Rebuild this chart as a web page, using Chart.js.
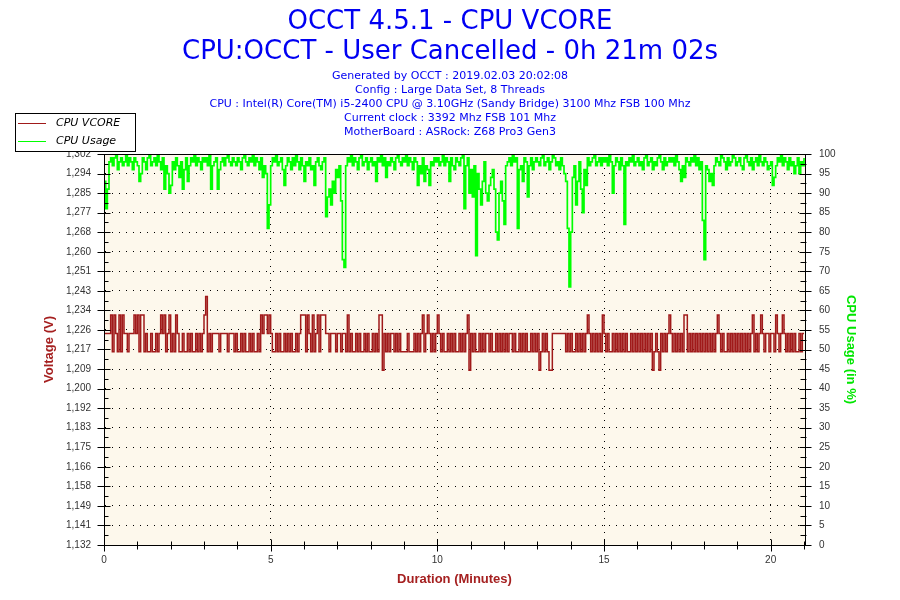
<!DOCTYPE html>
<html>
<head>
<meta charset="utf-8">
<title>OCCT 4.5.1 - CPU VCORE</title>
<script src="https://cdn.jsdelivr.net/npm/chart.js@4.4.1/dist/chart.umd.min.js"></script>
<style>
  html, body { margin: 0; padding: 0; background: #fff; }
  #occtChart { display: block; }
</style>
</head>
<body>
<canvas id="occtChart" width="900" height="600"></canvas>
<script>
/**=================
 * Data
 =================*/
const sampleMinutes = 0.05;   // one sample every 3 seconds
const durationMax = 21.03;    // 0h 21m 02s

// CPU VCORE in volts, one row per minute
const vcore = [
    1.224, 1.224, 1.224, 1.224, 1.232, 1.216, 1.232, 1.224, 1.216, 1.232, 1.216, 1.232, 1.224, 1.224, 1.216, 1.224, 1.224, 1.224, 1.232, 1.224,
    1.232, 1.216, 1.232, 1.232, 1.216, 1.224, 1.216, 1.216, 1.224, 1.216, 1.216, 1.224, 1.216, 1.224, 1.232, 1.224, 1.232, 1.216, 1.224, 1.232,
    1.216, 1.224, 1.216, 1.232, 1.224, 1.216, 1.216, 1.224, 1.216, 1.216, 1.224, 1.216, 1.224, 1.216, 1.216, 1.224, 1.216, 1.224, 1.216, 1.224,
    1.232, 1.240, 1.216, 1.224, 1.216, 1.224, 1.224, 1.224, 1.224, 1.216, 1.224, 1.224, 1.224, 1.224, 1.216, 1.224, 1.224, 1.224, 1.216, 1.224,
    1.216, 1.216, 1.224, 1.216, 1.224, 1.216, 1.216, 1.224, 1.216, 1.224, 1.216, 1.216, 1.224, 1.216, 1.232, 1.224, 1.232, 1.232, 1.224, 1.232,
    1.224, 1.216, 1.216, 1.224, 1.216, 1.224, 1.216, 1.216, 1.224, 1.216, 1.224, 1.216, 1.224, 1.216, 1.216, 1.224, 1.216, 1.224, 1.232, 1.232,
    1.232, 1.216, 1.232, 1.224, 1.216, 1.232, 1.216, 1.224, 1.232, 1.216, 1.232, 1.232, 1.232, 1.224, 1.224, 1.216, 1.224, 1.224, 1.224, 1.216,
    1.224, 1.224, 1.216, 1.224, 1.224, 1.216, 1.232, 1.216, 1.224, 1.216, 1.216, 1.224, 1.216, 1.224, 1.216, 1.216, 1.224, 1.216, 1.224, 1.216,
    1.216, 1.224, 1.216, 1.224, 1.216, 1.232, 1.232, 1.208, 1.224, 1.216, 1.224, 1.216, 1.224, 1.224, 1.216, 1.224, 1.216, 1.224, 1.216, 1.216,
    1.216, 1.216, 1.224, 1.216, 1.216, 1.216, 1.224, 1.216, 1.224, 1.216, 1.224, 1.232, 1.216, 1.224, 1.232, 1.224, 1.216, 1.224, 1.216, 1.224,
    1.232, 1.224, 1.216, 1.224, 1.216, 1.216, 1.224, 1.216, 1.224, 1.216, 1.224, 1.216, 1.216, 1.224, 1.216, 1.224, 1.216, 1.224, 1.232, 1.208,
    1.224, 1.216, 1.224, 1.216, 1.216, 1.224, 1.216, 1.224, 1.216, 1.224, 1.224, 1.216, 1.224, 1.216, 1.216, 1.224, 1.216, 1.224, 1.216, 1.224,
    1.216, 1.224, 1.216, 1.224, 1.224, 1.216, 1.224, 1.216, 1.216, 1.224, 1.216, 1.224, 1.216, 1.224, 1.216, 1.216, 1.224, 1.216, 1.224, 1.216,
    1.224, 1.208, 1.216, 1.224, 1.216, 1.224, 1.216, 1.208, 1.208, 1.224, 1.224, 1.224, 1.224, 1.224, 1.224, 1.224, 1.224, 1.216, 1.224, 1.216,
    1.224, 1.216, 1.216, 1.224, 1.216, 1.224, 1.216, 1.224, 1.216, 1.224, 1.232, 1.224, 1.216, 1.224, 1.216, 1.224, 1.216, 1.224, 1.216, 1.232,
    1.224, 1.216, 1.224, 1.216, 1.216, 1.224, 1.216, 1.224, 1.216, 1.224, 1.216, 1.224, 1.216, 1.224, 1.216, 1.216, 1.224, 1.216, 1.224, 1.216,
    1.224, 1.216, 1.224, 1.216, 1.224, 1.216, 1.224, 1.216, 1.224, 1.208, 1.216, 1.224, 1.216, 1.208, 1.224, 1.216, 1.224, 1.216, 1.224, 1.232,
    1.224, 1.216, 1.224, 1.216, 1.224, 1.216, 1.224, 1.216, 1.232, 1.232, 1.216, 1.224, 1.216, 1.224, 1.216, 1.224, 1.216, 1.224, 1.216, 1.224,
    1.216, 1.224, 1.216, 1.224, 1.216, 1.224, 1.216, 1.224, 1.232, 1.224, 1.216, 1.224, 1.216, 1.216, 1.224, 1.216, 1.224, 1.216, 1.224, 1.216,
    1.224, 1.216, 1.224, 1.216, 1.224, 1.216, 1.224, 1.216, 1.224, 1.232, 1.216, 1.224, 1.216, 1.224, 1.232, 1.224, 1.216, 1.224, 1.224, 1.216,
    1.224, 1.224, 1.216, 1.232, 1.224, 1.216, 1.224, 1.232, 1.224, 1.216, 1.224, 1.216, 1.224, 1.216, 1.224, 1.216, 1.216, 1.224, 1.216, 1.224,
    1.224
];

// CPU usage in %, one row per minute
const cpuUsage = [
    93, 86, 91, 98, 99, 97, 99, 100, 96, 98, 99, 97, 98, 100, 97, 99, 98, 96, 99, 98,
    97, 93, 95, 99, 98, 96, 99, 100, 97, 98, 99, 97, 100, 98, 96, 99, 91, 97, 95, 90,
    92, 98, 96, 99, 97, 94, 98, 91, 96, 99, 93, 97, 99, 98, 100, 97, 99, 98, 96, 99,
    98, 99, 97, 100, 91, 97, 98, 99, 91, 96, 98, 99, 97, 99, 100, 98, 97, 99, 98, 97,
    99, 98, 96, 99, 100, 98, 97, 99, 98, 100, 97, 99, 98, 96, 99, 94, 97, 95, 81, 87,
    97, 99, 98, 100, 97, 98, 99, 96, 92, 97, 99, 98, 96, 99, 97, 100, 98, 96, 99, 97,
    93, 98, 97, 99, 96, 97, 92, 98, 99, 97, 96, 98, 99, 84, 89, 91, 87, 93, 90, 96,
    94, 97, 88, 73, 71, 97, 99, 98, 100, 97, 99, 98, 96, 99, 100, 97, 98, 99, 96, 98,
    99, 97, 98, 93, 99, 98, 100, 97, 99, 94, 98, 97, 99, 98, 96, 99, 100, 98, 97, 99,
    98, 100, 97, 99, 98, 96, 99, 98, 92, 97, 95, 99, 93, 97, 96, 92, 98, 97, 99, 98,
    99, 97, 98, 100, 97, 99, 98, 93, 99, 97, 96, 99, 98, 97, 99, 100, 86, 97, 99, 90,
    96, 89, 97, 74, 95, 91, 87, 93, 98, 90, 88, 92, 94, 96, 91, 80, 78, 90, 93, 88,
    82, 97, 98, 99, 97, 100, 98, 99, 81, 96, 97, 93, 99, 98, 89, 97, 99, 96, 98, 99,
    98, 97, 99, 100, 97, 98, 99, 96, 98, 100, 99, 97, 98, 96, 99, 97, 95, 93, 81, 66,
    80, 94, 97, 87, 93, 98, 91, 85, 96, 92, 99, 97, 98, 99, 100, 97, 98, 99, 97, 99,
    98, 99, 97, 100, 98, 90, 97, 99, 98, 96, 99, 97, 82, 98, 97, 99, 98, 100, 97, 98,
    99, 97, 98, 96, 99, 100, 97, 98, 99, 96, 98, 97, 99, 100, 98, 96, 99, 97, 98, 99,
    98, 99, 97, 100, 98, 96, 93, 97, 94, 99, 98, 97, 99, 98, 100, 97, 99, 96, 98, 83,
    73, 97, 96, 93, 95, 92, 97, 99, 98, 97, 100, 99, 98, 96, 99, 97, 98, 100, 99, 97,
    98, 99, 97, 96, 99, 100, 98, 97, 99, 96, 98, 99, 97, 100, 98, 97, 99, 98, 96, 97,
    98, 92, 94, 97, 99, 98, 100, 97, 99, 98, 96, 99, 97, 98, 95, 97, 99, 95, 98, 97,
    99
];

const voltMin = 1.132;
const voltMax = 1.302;
const voltTickLabels = ['1,132', '1,141', '1,149', '1,158', '1,166', '1,175', '1,183', '1,192', '1,200', '1,209', '1,217',
    '1,226', '1,234', '1,243', '1,251', '1,260', '1,268', '1,277', '1,285', '1,294', '1,302'];
const usageTicks = [0, 5, 10, 15, 20, 25, 30, 35, 40, 45, 50, 55, 60, 65, 70, 75, 80, 85, 90, 95, 100];
const minuteTicks = [0, 5, 10, 15, 20];

const titleLines = ['OCCT 4.5.1 - CPU VCORE', 'CPU:OCCT - User Cancelled - 0h 21m 02s'];
const infoLines = [
    'Generated by OCCT : 2019.02.03 20:02:08',
    'Config : Large Data Set, 8 Threads',
    'CPU : Intel(R) Core(TM) i5-2400 CPU @ 3.10GHz (Sandy Bridge) 3100 Mhz FSB 100 Mhz',
    'Current clock : 3392 Mhz FSB 101 Mhz',
    'MotherBoard : ASRock: Z68 Pro3 Gen3'
];

/**=================
 * Colours & fonts
 =================*/
const titleBlue = '#0000f2';
const voltRed = '#a01a1a';
const axisRed = '#a52020';
const usageGreen = '#00ff00';
const usageTitleGreen = '#00e600';
const plotCream = '#fdf8ec';

Chart.defaults.font.family = "'Liberation Sans', Arial, sans-serif";
Chart.defaults.font.size = 10;
Chart.defaults.color = '#333';

const toPoints = values => values.map((v, i) => ({ x: i * sampleMinutes, y: v }));

/**=================
 * Frame plugin: plot background, border, tick marks, legend box
 =================*/
const occtFrame = {
    id: 'occtFrame',
    beforeDraw(chart) {
        const { ctx, chartArea: a } = chart;
        ctx.save();
        ctx.fillStyle = '#fff';
        ctx.fillRect(0, 0, chart.width, chart.height);
        ctx.fillStyle = plotCream;
        ctx.fillRect(a.left, a.top, a.right - a.left, a.bottom - a.top);
        ctx.restore();
    },
    afterDraw(chart) {
        const { ctx, chartArea: a, scales } = chart;
        const px = v => Math.round(v) + 0.5;
        const xl = px(a.left), xr = px(a.right), yt = px(a.top), yb = px(a.bottom);

        ctx.save();
        ctx.strokeStyle = '#000';
        ctx.lineWidth = 1;
        ctx.strokeRect(xl, yt, xr - xl, yb - yt);

        ctx.beginPath();
        const line = (x1, y1, x2, y2) => { ctx.moveTo(x1, y1); ctx.lineTo(x2, y2); };

        // left axis: major ticks cross the axis, minor ticks inside
        const vt = scales.y1.ticks;
        vt.forEach((t, i) => {
            const y = px(scales.y1.getPixelForValue(t.value));
            line(xl - 7, y, xl + 6, y);
            if (i < vt.length - 1) {
                const ym = px(scales.y1.getPixelForValue((t.value + vt[i + 1].value) / 2));
                line(xl, ym, xl + 4, ym);
            }
        });

        // right axis
        const ut = scales.y2.ticks;
        ut.forEach((t, i) => {
            const y = px(scales.y2.getPixelForValue(t.value));
            line(xr - 6, y, xr + 6, y);
            if (i < ut.length - 1) {
                const ym = px(scales.y2.getPixelForValue((t.value + ut[i + 1].value) / 2));
                line(xr - 5, ym, xr + 1, ym);
            }
        });

        // bottom axis: every minute, longer at labelled ones
        for (let m = 0; m <= Math.floor(durationMax); m++) {
            const x = px(scales.x.getPixelForValue(m));
            const len = minuteTicks.includes(m) ? 6 : 4;
            line(x, yb - len, x, yb + len);
        }
        ctx.stroke();

        // legend box
        const lx = 15.5, ly = 113.5, lw = 120, lh = 38;
        ctx.fillStyle = '#fff';
        ctx.fillRect(lx, ly, lw, lh);
        ctx.strokeStyle = '#000';
        ctx.strokeRect(lx, ly, lw, lh);
        ctx.font = "italic 11px 'DejaVu Sans'";
        ctx.textBaseline = 'middle';
        chart.data.datasets.forEach((ds, i) => {
            const y = 123.5 + i * 18;
            ctx.strokeStyle = ds.borderColor;
            ctx.lineWidth = 1;
            ctx.beginPath();
            ctx.moveTo(18, y);
            ctx.lineTo(46, y);
            ctx.stroke();
            ctx.fillStyle = '#000';
            ctx.fillText(ds.label, 56, y);
        });
        ctx.restore();
    }
};

/**=================
 * Chart
 =================*/
const occtCtx = document.getElementById('occtChart');
const occtChart = new Chart(occtCtx, {
    type: 'line',
    data: {
        datasets: [{
            label: 'CPU VCORE',
            data: toPoints(vcore),
            yAxisID: 'y1',
            borderColor: voltRed,
            borderWidth: 1.5,
            stepped: true,
            pointRadius: 0,
            fill: false
        }, {
            label: 'CPU Usage',
            data: toPoints(cpuUsage),
            yAxisID: 'y2',
            borderColor: usageGreen,
            borderWidth: 1.7,
            stepped: true,
            pointRadius: 0,
            fill: false
        }]
    },
    options: {
        responsive: false,
        animation: false,
        devicePixelRatio: 1,
        layout: { padding: 0 },
        plugins: {
            legend: { display: false },
            tooltip: { enabled: false },
            title: {
                display: true,
                text: titleLines,
                color: titleBlue,
                font: { family: "'DejaVu Sans'", size: 26, weight: 'normal', lineHeight: '30px' },
                padding: { top: 7, bottom: 0 }
            },
            subtitle: {
                display: true,
                text: infoLines,
                color: titleBlue,
                font: { family: "'DejaVu Sans'", size: 11, weight: 'normal', lineHeight: '14px' },
                padding: { top: 2, bottom: 15 }
            }
        },
        scales: {
            x: {
                type: 'linear',
                min: 0,
                max: durationMax,
                afterBuildTicks: s => { s.ticks = minuteTicks.map(v => ({ value: v })); },
                afterFit: s => { s.height = 55; },
                grid: { color: '#000', lineWidth: 1, drawTicks: false },
                border: { display: true, color: '#000', dash: [1, 6] },
                ticks: { padding: 9, maxRotation: 0, autoSkip: false },
                title: {
                    display: true,
                    text: 'Duration (Minutes)',
                    color: axisRed,
                    font: { size: 13, weight: 'bold' },
                    padding: { top: 0, bottom: 13 }
                }
            },
            y1: {
                type: 'linear',
                position: 'left',
                min: voltMin,
                max: voltMax,
                afterBuildTicks: s => {
                    const n = voltTickLabels.length - 1;
                    s.ticks = voltTickLabels.map((_, i) => ({ value: voltMin + (voltMax - voltMin) * i / n }));
                },
                afterFit: s => { s.width = 104; },
                grid: { color: '#000', lineWidth: 1, drawTicks: false },
                border: { display: true, color: '#000', dash: [1, 6] },
                ticks: { padding: 13, autoSkip: false, callback: (v, i) => voltTickLabels[i] },
                title: {
                    display: true,
                    text: 'Voltage (V)',
                    color: axisRed,
                    font: { size: 13, weight: 'bold' },
                    padding: { top: 42, bottom: 0 }
                }
            },
            y2: {
                type: 'linear',
                position: 'right',
                min: 0,
                max: 100,
                afterBuildTicks: s => { s.ticks = usageTicks.map(v => ({ value: v })); },
                afterFit: s => { s.width = 95; },
                grid: { drawOnChartArea: false, drawTicks: false },
                border: { display: true, color: '#000' },
                ticks: { padding: 14, autoSkip: false },
                title: {
                    display: true,
                    text: 'CPU Usage (in %)',
                    color: usageTitleGreen,
                    font: { size: 13, weight: 'bold' },
                    padding: { top: 42, bottom: 0 }
                }
            }
        }
    },
    plugins: [occtFrame]
});
</script>
</body>
</html>
